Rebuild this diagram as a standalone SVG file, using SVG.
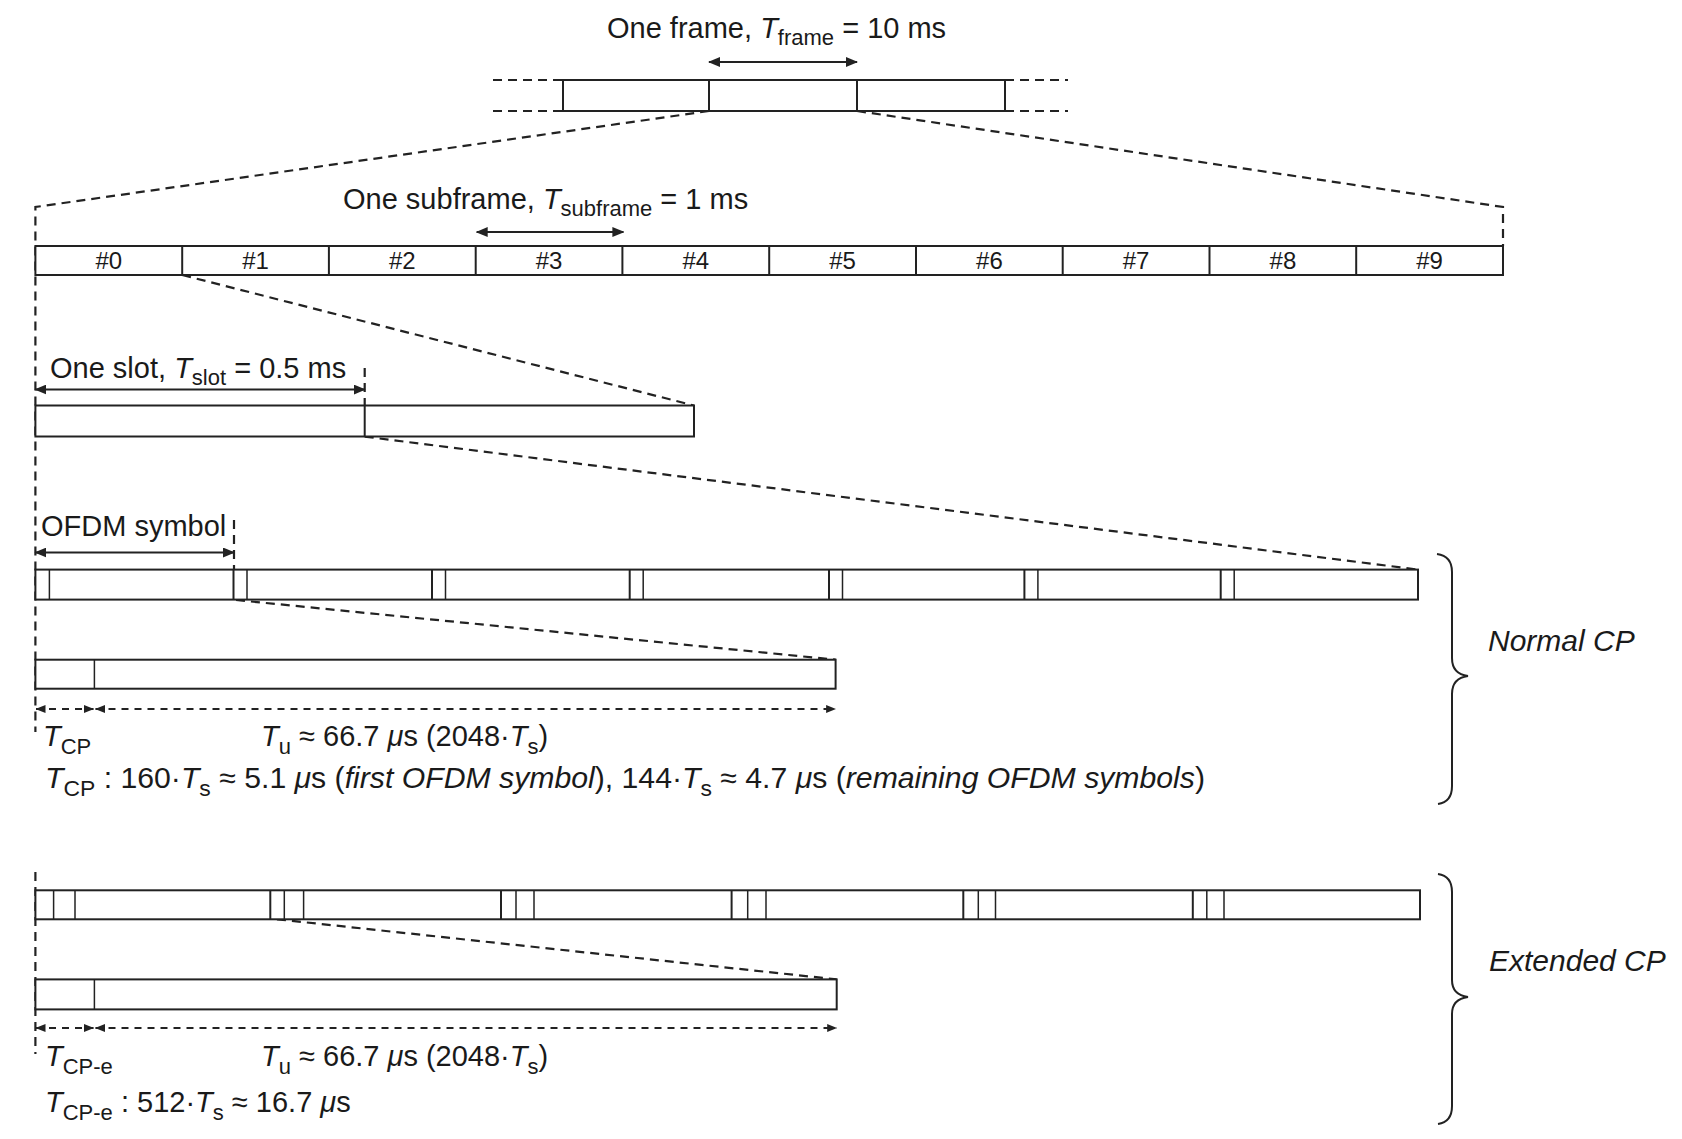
<svg xmlns="http://www.w3.org/2000/svg" width="1682" height="1139" viewBox="0 0 1682 1139">
<defs>
<style>
.box{fill:#fff;stroke:#222;stroke-width:2}
.ln{stroke:#222;stroke-width:2;fill:none}
.ln1{stroke:#222;stroke-width:1.5;fill:none}
.dash{stroke:#222;stroke-width:2.2;fill:none;stroke-dasharray:9 6}
.dimd{stroke:#222;stroke-width:2;fill:none;stroke-dasharray:7 6}
.arr{stroke:#222;stroke-width:2;fill:none}
.t{font-family:"Liberation Sans",Arial,sans-serif;font-size:29px;fill:#1a1a1a}
.n{font-family:"Liberation Sans",Arial,sans-serif;font-size:24px;fill:#1a1a1a;text-anchor:middle}
.i{font-style:italic}
.s{font-size:22px}
.brace{stroke:#222;stroke-width:2;fill:none}
</style>
<marker id="ah" viewBox="0 0 12 10" refX="11" refY="5" markerWidth="12" markerHeight="10" markerUnits="userSpaceOnUse" orient="auto-start-reverse">
<path d="M0,0 L12,5 L0,10 Z" fill="#222"/>
</marker>
<marker id="ahs" viewBox="0 0 10 8" refX="9.5" refY="4" markerWidth="10" markerHeight="8" markerUnits="userSpaceOnUse" orient="auto-start-reverse">
<path d="M0,0 L10,4 L0,8 Z" fill="#222"/>
</marker>
</defs>
<rect width="1682" height="1139" fill="#fff"/>

<g id="connectors">
<line class="dash" x1="493" y1="80" x2="563" y2="80"/>
<line class="dash" x1="493" y1="111" x2="563" y2="111"/>
<line class="dash" x1="1005" y1="80" x2="1068" y2="80"/>
<line class="dash" x1="1005" y1="111" x2="1068" y2="111"/>
<polyline class="dash" points="709,111 35.4,207 35.4,732"/>
<line class="dash" x1="35.4" y1="872" x2="35.4" y2="1054"/>
<polyline class="dash" points="857,111 1503,207 1503,246"/>
<line class="dash" x1="182.2" y1="275" x2="694" y2="405.5"/>
<line class="dash" x1="364.7" y1="436.6" x2="1418" y2="569.6"/>
<line class="dash" x1="364.7" y1="368" x2="364.7" y2="405.5"/>
<line class="dash" x1="234" y1="520" x2="234" y2="569.6"/>
<line class="dash" x1="236" y1="600" x2="835.6" y2="659.7"/>
<line class="dash" x1="277" y1="919.3" x2="836.7" y2="979.4"/>
<line class="arr" x1="709" y1="62" x2="857" y2="62" marker-start="url(#ah)" marker-end="url(#ah)"/>
<line class="arr" x1="476.7" y1="232" x2="623.4" y2="232" marker-start="url(#ah)" marker-end="url(#ah)"/>
<line class="arr" x1="35.4" y1="389.5" x2="364.7" y2="389.5" marker-start="url(#ah)" marker-end="url(#ah)"/>
<line class="arr" x1="35.4" y1="552.5" x2="234" y2="552.5" marker-start="url(#ah)" marker-end="url(#ah)"/>
<line class="dimd" x1="36" y1="709" x2="93.5" y2="709" marker-start="url(#ahs)" marker-end="url(#ahs)"/>
<line class="dimd" x1="95.5" y1="709" x2="835.6" y2="709" marker-start="url(#ahs)" marker-end="url(#ahs)"/>
<line class="dimd" x1="36" y1="1028" x2="93.5" y2="1028" marker-start="url(#ahs)" marker-end="url(#ahs)"/>
<line class="dimd" x1="95.5" y1="1028" x2="836.7" y2="1028" marker-start="url(#ahs)" marker-end="url(#ahs)"/>
</g>

<g id="frame">
<rect class="box" x="563" y="80" width="442" height="31"/>
<line class="ln" x1="709" y1="80" x2="709" y2="111"/>
<line class="ln" x1="857" y1="80" x2="857" y2="111"/>
<text class="t" x="607" y="38">One frame, <tspan class="i">T</tspan><tspan class="s" dy="7">frame</tspan><tspan dy="-7"> = 10 ms</tspan></text>
</g>

<g id="subframes">
<rect class="box" x="35.4" y="246" width="1467.6" height="29"/>
<line class="ln" x1="182.2" y1="246" x2="182.2" y2="275"/>
<line class="ln" x1="328.9" y1="246" x2="328.9" y2="275"/>
<line class="ln" x1="475.7" y1="246" x2="475.7" y2="275"/>
<line class="ln" x1="622.4" y1="246" x2="622.4" y2="275"/>
<line class="ln" x1="769.2" y1="246" x2="769.2" y2="275"/>
<line class="ln" x1="916" y1="246" x2="916" y2="275"/>
<line class="ln" x1="1062.7" y1="246" x2="1062.7" y2="275"/>
<line class="ln" x1="1209.5" y1="246" x2="1209.5" y2="275"/>
<line class="ln" x1="1356.2" y1="246" x2="1356.2" y2="275"/>
<text class="n" x="108.8" y="269">#0</text>
<text class="n" x="255.6" y="269">#1</text>
<text class="n" x="402.3" y="269">#2</text>
<text class="n" x="549.1" y="269">#3</text>
<text class="n" x="695.8" y="269">#4</text>
<text class="n" x="842.6" y="269">#5</text>
<text class="n" x="989.4" y="269">#6</text>
<text class="n" x="1136.1" y="269">#7</text>
<text class="n" x="1282.9" y="269">#8</text>
<text class="n" x="1429.6" y="269">#9</text>
<text class="t" x="343" y="209">One subframe, <tspan class="i">T</tspan><tspan class="s" dy="7">subframe</tspan><tspan dy="-7"> = 1 ms</tspan></text>
</g>

<g id="slots">
<rect class="box" x="35.4" y="405.5" width="658.6" height="31"/>
<line class="ln" x1="364.7" y1="405.5" x2="364.7" y2="436.6"/>
<text class="t" x="50" y="378">One slot, <tspan class="i">T</tspan><tspan class="s" dy="7">slot</tspan><tspan dy="-7"> = 0.5 ms</tspan></text>
</g>

<g id="ofdm-normal">
<rect class="box" x="35.4" y="569.6" width="1382.6" height="30"/>
<line class="ln1" x1="49.4" y1="569.6" x2="49.4" y2="599.6"/>
<line class="ln" x1="233.5" y1="569.6" x2="233.5" y2="599.6"/>
<line class="ln1" x1="247" y1="569.6" x2="247" y2="599.6"/>
<line class="ln" x1="432" y1="569.6" x2="432" y2="599.6"/>
<line class="ln1" x1="445.5" y1="569.6" x2="445.5" y2="599.6"/>
<line class="ln" x1="629.7" y1="569.6" x2="629.7" y2="599.6"/>
<line class="ln1" x1="643.2" y1="569.6" x2="643.2" y2="599.6"/>
<line class="ln" x1="829" y1="569.6" x2="829" y2="599.6"/>
<line class="ln1" x1="842.5" y1="569.6" x2="842.5" y2="599.6"/>
<line class="ln" x1="1024.4" y1="569.6" x2="1024.4" y2="599.6"/>
<line class="ln1" x1="1037.9" y1="569.6" x2="1037.9" y2="599.6"/>
<line class="ln" x1="1220.7" y1="569.6" x2="1220.7" y2="599.6"/>
<line class="ln1" x1="1234.2" y1="569.6" x2="1234.2" y2="599.6"/>
<text class="t" x="41" y="536">OFDM symbol</text>
</g>

<g id="symbol-normal">
<rect class="box" x="35.4" y="659.7" width="800.2" height="29"/>
<line class="ln1" x1="94.4" y1="659.7" x2="94.4" y2="688.7"/>
<text class="t" x="43" y="746"><tspan class="i">T</tspan><tspan class="s" dy="8">CP</tspan></text>
<text class="t" x="261" y="746"><tspan class="i">T</tspan><tspan class="s" dy="8">u</tspan><tspan dy="-8"> ≈ 66.7 </tspan><tspan class="i">μ</tspan>s (2048·<tspan class="i">T</tspan><tspan class="s" dy="8">s</tspan><tspan dy="-8">)</tspan></text>
<text class="t" x="45" y="788" textLength="1160" lengthAdjust="spacingAndGlyphs"><tspan class="i">T</tspan><tspan class="s" dy="8">CP</tspan><tspan dy="-8"> : 160·</tspan><tspan class="i">T</tspan><tspan class="s" dy="8">s</tspan><tspan dy="-8"> ≈ 5.1 </tspan><tspan class="i">μ</tspan>s (<tspan class="i">first OFDM symbol</tspan>), 144·<tspan class="i">T</tspan><tspan class="s" dy="8">s</tspan><tspan dy="-8"> ≈ 4.7 </tspan><tspan class="i">μ</tspan>s (<tspan class="i">remaining OFDM symbols</tspan>)</text>
</g>

<g id="normal-cp-brace">
<path class="brace" d="M1437,554 Q1452,556 1452,572 L1452,658 Q1452,674 1468,676 Q1452,678 1452,694 L1452,786 Q1452,802 1438,804"/>
<text class="t i" x="1488" y="651" style="font-size:30px">Normal CP</text>
</g>

<g id="ofdm-extended">
<rect class="box" x="35.4" y="890.3" width="1384.6" height="29"/>
<line class="ln1" x1="53.6" y1="890.3" x2="53.6" y2="919.3"/>
<line class="ln1" x1="75" y1="890.3" x2="75" y2="919.3"/>
<line class="ln" x1="270.3" y1="890.3" x2="270.3" y2="919.3"/>
<line class="ln1" x1="284.3" y1="890.3" x2="284.3" y2="919.3"/>
<line class="ln1" x1="303.6" y1="890.3" x2="303.6" y2="919.3"/>
<line class="ln" x1="501" y1="890.3" x2="501" y2="919.3"/>
<line class="ln1" x1="516" y1="890.3" x2="516" y2="919.3"/>
<line class="ln1" x1="534" y1="890.3" x2="534" y2="919.3"/>
<line class="ln" x1="731.6" y1="890.3" x2="731.6" y2="919.3"/>
<line class="ln1" x1="747.7" y1="890.3" x2="747.7" y2="919.3"/>
<line class="ln1" x1="766" y1="890.3" x2="766" y2="919.3"/>
<line class="ln" x1="963.3" y1="890.3" x2="963.3" y2="919.3"/>
<line class="ln1" x1="978.3" y1="890.3" x2="978.3" y2="919.3"/>
<line class="ln1" x1="995.5" y1="890.3" x2="995.5" y2="919.3"/>
<line class="ln" x1="1192.8" y1="890.3" x2="1192.8" y2="919.3"/>
<line class="ln1" x1="1206.8" y1="890.3" x2="1206.8" y2="919.3"/>
<line class="ln1" x1="1224" y1="890.3" x2="1224" y2="919.3"/>
</g>

<g id="symbol-extended">
<rect class="box" x="35.4" y="979.4" width="801.3" height="30"/>
<line class="ln1" x1="94.4" y1="979.4" x2="94.4" y2="1009.4"/>
<text class="t" x="45" y="1066"><tspan class="i">T</tspan><tspan class="s" dy="8">CP-e</tspan></text>
<text class="t" x="261" y="1066"><tspan class="i">T</tspan><tspan class="s" dy="8">u</tspan><tspan dy="-8"> ≈ 66.7 </tspan><tspan class="i">μ</tspan>s (2048·<tspan class="i">T</tspan><tspan class="s" dy="8">s</tspan><tspan dy="-8">)</tspan></text>
<text class="t" x="45" y="1112"><tspan class="i">T</tspan><tspan class="s" dy="8">CP-e</tspan><tspan dy="-8"> : 512·</tspan><tspan class="i">T</tspan><tspan class="s" dy="8">s</tspan><tspan dy="-8"> ≈ 16.7 </tspan><tspan class="i">μ</tspan>s</text>
</g>

<g id="extended-cp-brace">
<path class="brace" d="M1438,874 Q1452,876 1452,892 L1452,980 Q1452,995 1468,997 Q1452,999 1452,1014 L1452,1106 Q1452,1122 1438,1124"/>
<text class="t i" x="1489" y="971" style="font-size:30px">Extended CP</text>
</g>
</svg>
